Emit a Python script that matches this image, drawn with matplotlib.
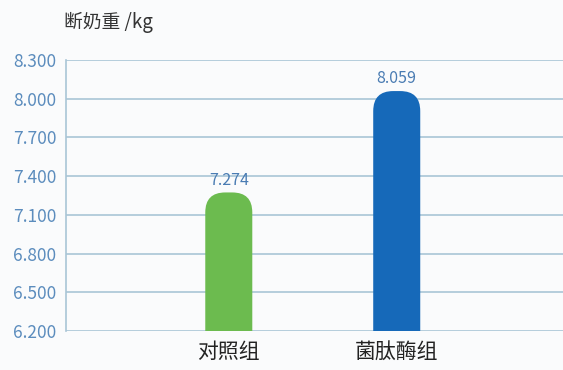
import matplotlib.pyplot as plt
from matplotlib.patches import FancyBboxPatch

plt.rcParams['font.family'] = ['Noto Sans CJK SC', 'DejaVu Sans']

# data
categories = ["对照组", "菌肽酶组"]
values = [7.274, 8.059]
bar_colors = ["#6cbb4f", "#1669b9"]
yticks = [6.2, 6.5, 6.8, 7.1, 7.4, 7.7, 8.0, 8.3]
ylabel = "断奶重 /kg"

fig = plt.figure(figsize=(5.63, 3.70), dpi=100)
fig.patch.set_facecolor("#fafbfc")
ax = fig.add_axes([0.117, 0.105, 0.883, 0.733])
ax.set_facecolor("none")

ax.set_xlim(-0.97, 1.99)
ax.set_ylim(6.2, 8.3)

width = 0.28
# data units per pixel, to keep the rounded top circular
x_per_px = (1.99 + 0.97) / (0.883 * 563)
y_per_px = (8.3 - 6.2) / (0.733 * 370)
r_px = 20
for i, (v, c) in enumerate(zip(values, bar_colors)):
    box = FancyBboxPatch((i - width / 2, 6.0), width, v - 6.0,
                         boxstyle=f"round,pad=0,rounding_size={r_px * x_per_px}",
                         mutation_aspect=y_per_px / x_per_px,
                         facecolor=c, edgecolor="none", zorder=3, clip_on=True)
    ax.add_patch(box)
    ax.text(i, v + 0.03, f"{v:.3f}", ha="center", va="bottom",
            fontsize=11.5, color="#4a7cb3", zorder=4)

ax.set_yticks(yticks)
ax.set_yticklabels([f"{t:.3f}" for t in yticks], fontsize=12.5, color="#5b8cbd")
ax.set_xticks(range(len(categories)))
ax.set_xticklabels(categories, fontsize=15, color="#222222")
ax.tick_params(axis="both", length=0)
ax.tick_params(axis="y", pad=7)
ax.tick_params(axis="x", pad=7)

ax.grid(axis="y", color="#a9c5d6", linewidth=1.2, zorder=1)
for s in ["top", "right", "bottom"]:
    ax.spines[s].set_visible(False)
ax.spines["left"].set_color("#a9c5d6")
ax.spines["left"].set_linewidth(1.2)

fig.text(0.113, 0.94, ylabel, fontsize=13.5, fontweight="medium",
         color="#333333", ha="left", va="center")

fig.savefig("out.png", dpi=100, facecolor=fig.get_facecolor())
